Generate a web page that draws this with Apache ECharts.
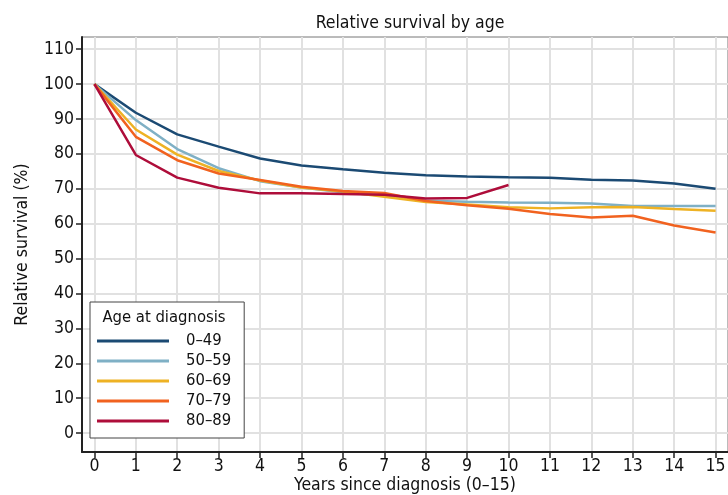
<!DOCTYPE html>
<html><head><meta charset="utf-8">
<script src="https://cdn.jsdelivr.net/npm/echarts@6/dist/echarts.min.js"></script>
<style>html,body{margin:0;padding:0;background:#fff}#c{width:728px;height:495px}</style>
</head><body><div id="c"></div>
<script>
const years = [0,1,2,3,4,5,6,7,8,9,10,11,12,13,14,15];
const xTicks = [0,1,2,3,4,5,6,7,8,9,10,11,12,13,14,15];
const yTicks = [0,10,20,30,40,50,60,70,80,90,100,110];
const seriesNames = ['0–49','50–59','60–69','70–79','80–89'];
const s0_49  = [100, 91.8, 85.6, 82.1, 78.7, 76.7, 75.6, 74.6, 73.9, 73.5, 73.3, 73.2, 72.6, 72.4, 71.5, 70.0];
const s50_59 = [100, 89.7, 81.4, 75.9, 72.2, 70.4, 69.0, 68.0, 66.6, 66.3, 66.1, 66.0, 65.8, 65.1, 65.1, 65.1];
const s60_69 = [100, 87.0, 79.8, 75.1, 72.4, 70.4, 69.2, 67.7, 66.2, 65.5, 64.7, 64.4, 64.7, 64.8, 64.2, 63.7];
const s70_79 = [100, 84.9, 78.2, 74.4, 72.5, 70.6, 69.4, 68.8, 66.5, 65.3, 64.3, 62.8, 61.8, 62.3, 59.5, 57.5];
const s80_89 = [100, 79.7, 73.2, 70.3, 68.7, 68.7, 68.5, 68.3, 67.2, 67.4, 71.1];
const allValues = [s0_49, s50_59, s60_69, s70_79, s80_89];
const colors = ['#1b4a73', '#7fb0c5', '#eeb224', '#f1621f', '#ae0d3a'];

const FONT = '"Liberation Sans Narrow", "DejaVu Sans Condensed", "Noto Sans", sans-serif';
const chart = echarts.init(document.getElementById('c'));
chart.setOption({
  animation: false,
  textStyle: {fontFamily: FONT},
  title: {
    text: 'Relative survival by age', left: 405, textAlign: 'center', top: 9,
    textStyle: {fontFamily: FONT, fontSize: 17.5, fontWeight: 'normal', color: '#111'}
  },
  grid: {left: 82, top: 37, right: 0, bottom: 43, outerBoundsMode: 'none', containLabel: false,
    show: true, borderColor: '#777', borderWidth: 1, backgroundColor: '#fff'},
  xAxis: {
    type: 'value', min: -0.3, max: 15.3,
    name: 'Years since diagnosis (0–15)', nameLocation: 'middle', nameGap: 24, nameMoveOverlap: false,
    nameTextStyle: {fontFamily: FONT, fontSize: 17.5, color: '#111'},
    axisLine: {show: true, onZero: false, lineStyle: {color: '#222', width: 2}},
    axisTick: {show: true, length: 6, customValues: xTicks, lineStyle: {color: '#222', width: 1.5}},
    axisLabel: {customValues: xTicks, fontFamily: FONT, fontSize: 17.5, color: '#111', margin: 5},
    splitLine: {show: true, lineStyle: {color: '#e1e1e1', width: 2}}
  },
  yAxis: {
    type: 'value', min: -5.4, max: 113.5,
    name: 'Relative survival (%)', nameLocation: 'middle', nameGap: 51, nameMoveOverlap: false,
    nameTextStyle: {fontFamily: FONT, fontSize: 17.5, color: '#111'},
    axisLine: {show: true, onZero: false, lineStyle: {color: '#222', width: 2}},
    axisTick: {show: true, length: 6, customValues: yTicks, lineStyle: {color: '#222', width: 1.5}},
    axisLabel: {customValues: yTicks, fontFamily: FONT, fontSize: 17.5, color: '#111', margin: 8},
    splitLine: {show: true, lineStyle: {color: '#e1e1e1', width: 2}}
  },
  legend: {
    orient: 'vertical', left: 90, top: 302,
    padding: [29, 13, 7, 7], itemGap: 0,
    backgroundColor: '#fff', borderColor: '#444', borderWidth: 1, borderRadius: 0,
    icon: 'rect', itemWidth: 72, itemHeight: 3,
    textStyle: {fontFamily: FONT, fontSize: 16.5, color: '#111', lineHeight: 20, padding: [0, 0, 0, 12]},
    data: seriesNames
  },
  graphic: [{
    type: 'text', x: 164, y: 318, z: 200,
    style: {text: 'Age at diagnosis', fontFamily: FONT, fontSize: 16.5, fill: '#111', align: 'center', verticalAlign: 'middle'}
  }],
  series: seriesNames.map((n, i) => ({
    name: n, type: 'line', showSymbol: false, symbol: 'none',
    color: colors[i], lineStyle: {width: 2.5, color: colors[i]},
    data: allValues[i].map((v, j) => [years[j], v])
  }))
});
</script></body></html>
